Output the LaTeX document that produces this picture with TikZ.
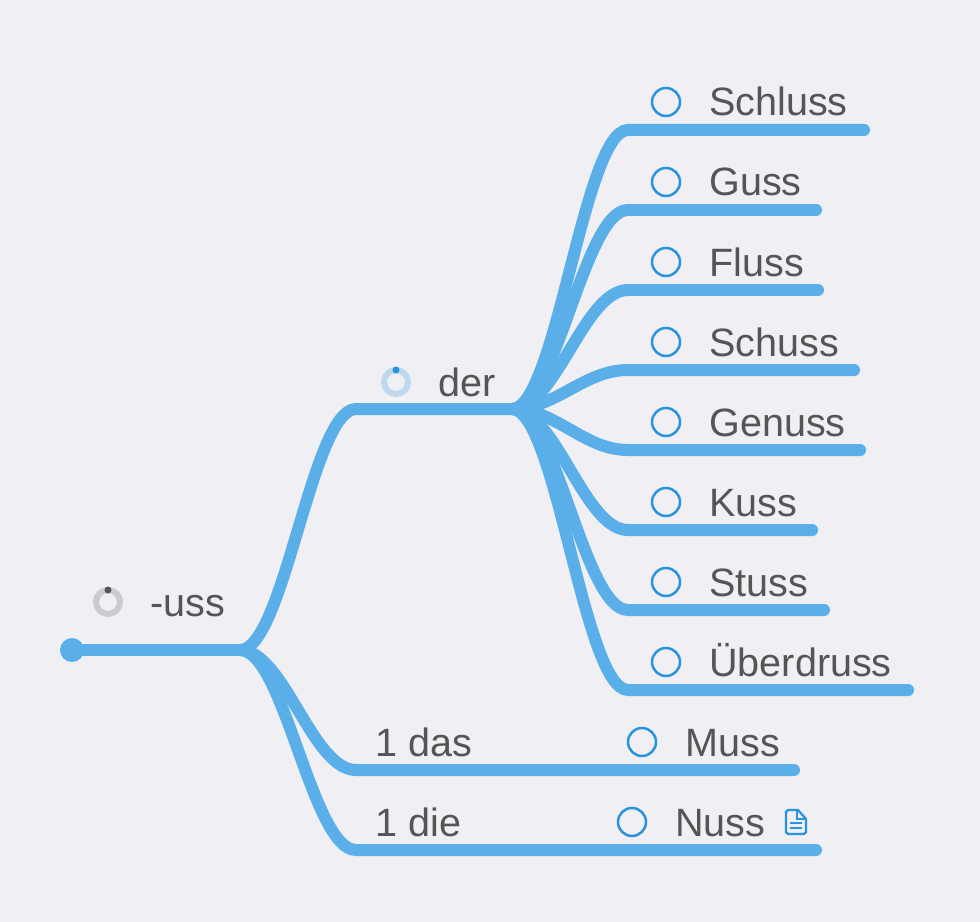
\documentclass[tikz,border=0pt]{standalone}
\usepackage{fontspec}
\setmainfont{Liberation Sans}
\definecolor{pagebg}{HTML}{EFEFF4}
\definecolor{branchblue}{HTML}{5AAFE8}
\definecolor{tickblue}{HTML}{2A93DE}
\definecolor{labelgray}{HTML}{555555}
\tikzset{
	branch/.style={line width=0.24cm, color=branchblue, line cap=round, line join=round},
	word/.style={anchor=base west, inner sep=0pt, color=labelgray, font=\fontsize{22.5}{26}\selectfont},
	tick/.style={circle, draw=tickblue, line width=0.05cm, minimum size=0.56cm, inner sep=0pt},
	ring/.style={circle, line width=0.12cm, minimum size=0.48cm, inner sep=0pt},
	ringdot/.style={circle, minimum size=0.14cm, inner sep=0pt},
}
\def\twig(#1)(#2)(#3){\draw[branch] (#1) .. controls ($(#1)+(44,0)$) and ($(#2)+(-44,0)$) .. (#2) -- (#3);}
\usetikzlibrary{calc}

\begin{document}
\begin{tikzpicture}[x=0.02cm, y=-0.02cm]
		%%%%% START %%%%%
		\fill[pagebg] (0, 0) rectangle (980, 922);
		\useasboundingbox (0, 0) rectangle (980, 922);
		
		% junctions
		\coordinate (rootEnd) at (240, 650);
		\coordinate (derEnd) at (512, 409);
		\node[circle, fill=branchblue, minimum size=0.48cm, inner sep=0pt] (root) at (72, 650) {};
		
		% main branches
		\draw[branch] (root) -- (rootEnd);
		\coordinate (derStart) at (356, 409);
		\coordinate (dasStart) at (356, 770);
		\coordinate (dasEnd) at (794, 770);
		\coordinate (dieStart) at (356, 850);
		\coordinate (dieEnd) at (816, 850);
		\twig(rootEnd)(derStart)(derEnd)
		\twig(rootEnd)(dasStart)(dasEnd)
		\twig(rootEnd)(dieStart)(dieEnd)
		
		% der branches
		\coordinate (schlussStart) at (628, 130);
		\coordinate (schlussEnd) at (864, 130);
		\coordinate (gussStart) at (628, 210);
		\coordinate (gussEnd) at (816, 210);
		\coordinate (flussStart) at (628, 290);
		\coordinate (flussEnd) at (818, 290);
		\coordinate (schussStart) at (628, 370);
		\coordinate (schussEnd) at (854, 370);
		\coordinate (genussStart) at (628, 450);
		\coordinate (genussEnd) at (860, 450);
		\coordinate (kussStart) at (628, 530);
		\coordinate (kussEnd) at (812, 530);
		\coordinate (stussStart) at (628, 610);
		\coordinate (stussEnd) at (824, 610);
		\coordinate (ueberdrussStart) at (628, 690);
		\coordinate (ueberdrussEnd) at (908, 690);
		\twig(derEnd)(schlussStart)(schlussEnd)
		\twig(derEnd)(gussStart)(gussEnd)
		\twig(derEnd)(flussStart)(flussEnd)
		\twig(derEnd)(schussStart)(schussEnd)
		\twig(derEnd)(genussStart)(genussEnd)
		\twig(derEnd)(kussStart)(kussEnd)
		\twig(derEnd)(stussStart)(stussEnd)
		\twig(derEnd)(ueberdrussStart)(ueberdrussEnd)
		
		% rings
		\node[ring, draw=black!15!pagebg] (ussRing) at (108, 602) {};
		\node[ringdot, fill=labelgray] (ussDot) at (108, 590) {};
		\node[ring, draw=tickblue!25!pagebg] (derRing) at (396, 382) {};
		\node[ringdot, fill=tickblue] (derDot) at (396, 370) {};
		
		% labels
		\node[word] (uss) at (150, 616) {-uss};
		\node[word] (der) at (438, 396) {der};
		\node[word] (das) at (375, 756) {1 das};
		\node[word] (die) at (375, 836) {1 die};
		
		\node[tick] (schlussTick) at (666, 102) {};
		\node[word] (schluss) at (709, 116) {Schluss};
		\node[tick] (gussTick) at (666, 182) {};
		\node[word] (guss) at (709, 196) {Guss};
		\node[tick] (flussTick) at (666, 262) {};
		\node[word] (fluss) at (709, 276) {Fluss};
		\node[tick] (schussTick) at (666, 342) {};
		\node[word] (schuss) at (709, 356) {Schuss};
		\node[tick] (genussTick) at (666, 422) {};
		\node[word] (genuss) at (709, 436) {Genuss};
		\node[tick] (kussTick) at (666, 502) {};
		\node[word] (kuss) at (709, 516) {Kuss};
		\node[tick] (stussTick) at (666, 582) {};
		\node[word] (stuss) at (709, 596) {Stuss};
		\node[tick] (ueberdrussTick) at (666, 662) {};
		\node[word] (ueberdruss) at (709, 676) {Überdruss};
		\node[tick] (mussTick) at (642, 742) {};
		\node[word] (muss) at (685, 756) {Muss};
		\node[tick] (nussTick) at (632, 822) {};
		\node[word] (nuss) at (675, 836) {Nuss};
		
		% note icon
		\draw[tickblue, line width=0.045cm, line join=round] (788, 810) -- (798, 810) -- (806, 819) -- (806, 832) -- (804, 834) -- (788, 834) -- (786, 832) -- (786, 812) -- cycle;
		\draw[tickblue, line width=0.04cm] (797, 810) -- (797, 819) -- (806, 819);
		\draw[tickblue, line width=0.04cm] (790, 823) -- (802, 823);
		\draw[tickblue, line width=0.04cm] (790, 828) -- (802, 828);
		%%%%% END %%%%%
	\end{tikzpicture}
\end{document}
